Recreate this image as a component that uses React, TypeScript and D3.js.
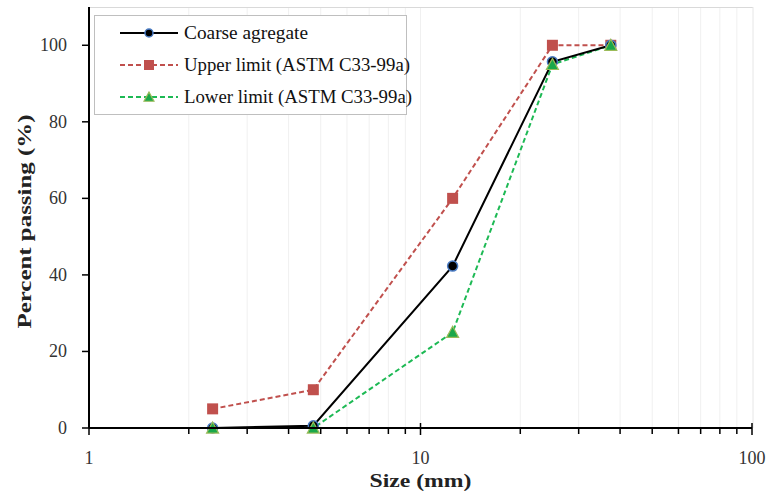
import React from "react";
import * as d3 from "d3";

const sizes = [2.36, 4.75, 12.5, 25, 37.5];
const coarse = [0, 0.6, 42.3, 95.7, 100];
const upper = [5, 10, 60, 100, 100];
const lower = [0, 0, 25, 95, 100];
const yTicks = [0, 20, 40, 60, 80, 100];
const xMajor = [1, 10, 100];
const legendLabels = ["Coarse agregate", "Upper limit (ASTM C33-99a)", "Lower limit (ASTM C33-99a)"];

const W = 773, H = 495;
const m = { left: 89, right: 21, top: 7, bottom: 67 };
const FONT = "'Liberation Serif', 'DejaVu Serif', serif";

export default function App() {
  const x = d3.scaleLog().domain([1, 100]).range([m.left, W - m.right]);
  const y = d3.scaleLinear().domain([0, 110]).range([H - m.bottom, m.top]);
  const minor: number[] = [];
  for (const dec of [1, 10]) for (let k = 2; k <= 9; k++) minor.push(dec * k);
  const line = d3.line<[number, number]>().x(d => x(d[0])).y(d => y(d[1]));
  const pts = (arr: number[]) => sizes.map((s, i) => [s, arr[i]] as [number, number]);
  const y0 = y(0);

  const circle = (cx: number, cy: number, key: any, r = 5) => (
    <circle key={key} cx={cx} cy={cy} r={r} fill="#000" stroke="#4a7cc4" strokeWidth={1.5} />
  );
  const square = (cx: number, cy: number, key: any, s = 11) => (
    <rect key={key} x={cx - s / 2} y={cy - s / 2} width={s} height={s} fill="#c0504d" />
  );
  const tri = (cx: number, cy: number, key: any, s = 6) => (
    <path key={key} d={`M${cx},${cy - s}L${cx + s},${cy + s * 0.85}L${cx - s},${cy + s * 0.85}Z`} fill="#1aa84a" stroke="#9bbb59" strokeWidth={1.2} />
  );

  const rows = [33, 65, 97];
  const legendLens = [124, 226, 228];

  return (
    <svg width={W} height={H} style={{ display: "block", position: "absolute", left: 0, top: 0, background: "#fff" }}>
      {/* gridlines */}
      {minor.map(v => (
        <line key={"g" + v} x1={x(v)} x2={x(v)} y1={y(110)} y2={y0} stroke="#f0f0f0" strokeWidth={1} />
      ))}
      <line x1={x(10)} x2={x(10)} y1={y(110)} y2={y0} stroke="#f0f0f0" />
      <line x1={m.left} x2={W - m.right + 1} y1={y(110) + 0.5} y2={y(110) + 0.5} stroke="#d9d9d9" />
      <line x1={W - m.right + 1} x2={W - m.right + 1} y1={y(110)} y2={y0} stroke="#e6e6e6" />

      {/* series */}
      <path d={line(pts(upper))!} fill="none" stroke="#c0504d" strokeWidth={2} strokeDasharray="5,3" />
      <path d={line(pts(lower))!} fill="none" stroke="#1db954" strokeWidth={2} strokeDasharray="5,3" />
      <path d={line(pts(coarse))!} fill="none" stroke="#000" strokeWidth={2} />
      {pts(upper).map((p, i) => square(x(p[0]), y(p[1]), "u" + i))}
      {pts(coarse).map((p, i) => circle(x(p[0]), y(p[1]), "c" + i))}
      {pts(lower).map((p, i) => tri(x(p[0]), y(p[1]), "l" + i))}

      {/* axes */}
      <line x1={m.left} x2={W - m.right} y1={y0} y2={y0} stroke="#000" strokeWidth={2} />
      <line x1={m.left} x2={m.left} y1={y(110)} y2={y0} stroke="#000" strokeWidth={2} />
      {minor.map(v => (
        <line key={"t" + v} x1={x(v)} x2={x(v)} y1={y0} y2={y0 + 6} stroke="#000" strokeWidth={1.5} />
      ))}
      {xMajor.map(v => (
        <g key={"M" + v}>
          <line x1={x(v)} x2={x(v)} y1={y0 - 5} y2={y0 + 7} stroke="#000" strokeWidth={1.5} />
          <text x={x(v)} y={y0 + 36} textAnchor="middle" fontFamily={FONT} fontSize={18} fill="#333">{v}</text>
        </g>
      ))}
      {yTicks.map(v => (
        <g key={"y" + v}>
          <line x1={m.left - 7} x2={m.left} y1={y(v)} y2={y(v)} stroke="#000" strokeWidth={1.5} />
          <text x={m.left - 22} y={y(v) + 6} textAnchor="end" fontFamily={FONT} fontSize={18} fill="#333">{v}</text>
        </g>
      ))}
      <text x={x(10)} y={487} textAnchor="middle" fontFamily={FONT} fontSize={19} fontWeight="bold" fill="#222" textLength={102} lengthAdjust="spacingAndGlyphs">Size (mm)</text>
      <text transform={`translate(31,${y(55) + 4}) rotate(-90)`} textAnchor="middle" fontFamily={FONT} fontSize={19} fontWeight="bold" fill="#222" textLength={214} lengthAdjust="spacingAndGlyphs">Percent  passing (%)</text>

      {/* legend */}
      <rect x={94.5} y={15.5} width={312} height={99} fill="#fff" stroke="#bfbfbf" strokeWidth={1} />
      {legendLabels.map((lab, i) => {
        const cy = rows[i];
        return (
          <g key={"lg" + i}>
            {i === 0 && <line x1={120} x2={178} y1={cy} y2={cy} stroke="#000" strokeWidth={2} />}
            {i === 1 && <line x1={120} x2={178} y1={cy} y2={cy} stroke="#c0504d" strokeWidth={2} strokeDasharray="5,3" />}
            {i === 2 && <line x1={120} x2={178} y1={cy} y2={cy} stroke="#1db954" strokeWidth={2} strokeDasharray="5,3" />}
            {i === 0 && circle(149, cy, "lc", 4)}
            {i === 1 && square(149, cy, "ls", 10)}
            {i === 2 && tri(149, cy, "lt", 5)}
            <text x={184} y={cy + 6} fontFamily={FONT} fontSize={18} fill="#111" textLength={legendLens[i]} lengthAdjust="spacingAndGlyphs">{lab}</text>
          </g>
        );
      })}
    </svg>
  );
}
